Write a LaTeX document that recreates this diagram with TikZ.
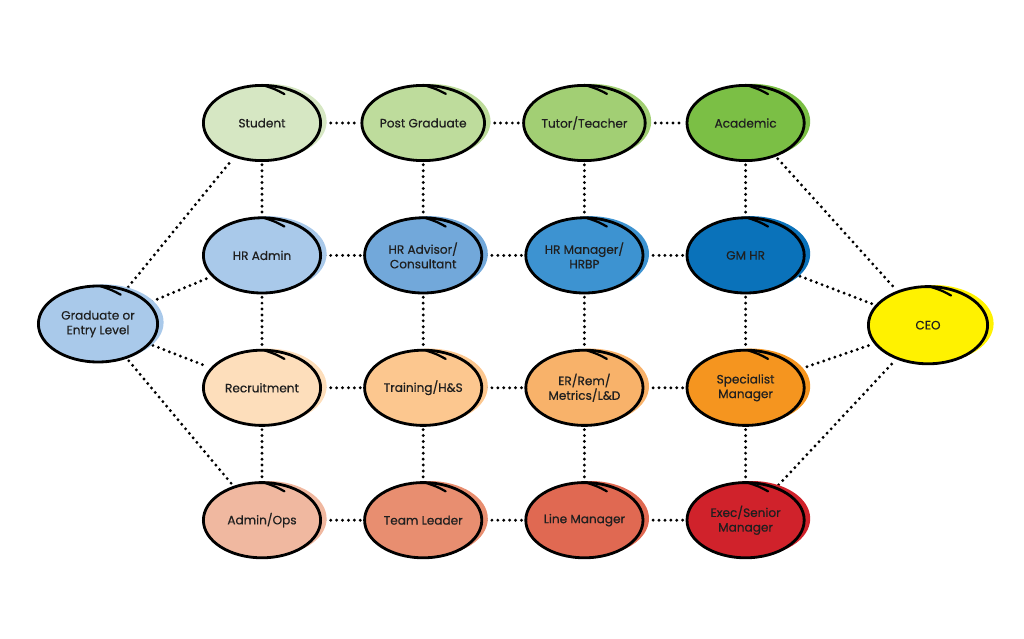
\documentclass[tikz,border=0pt]{standalone}
\usepackage{fontspec}
\setmainfont{Poppins}
\newfontfamily\rolefont{Poppins}[FakeBold=0.5]
\usetikzlibrary{shapes.geometric,positioning,calc,backgrounds}

\definecolor{cStudent}{HTML}{D6E7C3}
\definecolor{cPostGrad}{HTML}{BEDC9C}
\definecolor{cTutor}{HTML}{A2CF74}
\definecolor{cAcademic}{HTML}{7BBF45}
\definecolor{cHRAdmin}{HTML}{A9C9EA}
\definecolor{cHRAdvisor}{HTML}{72A8DA}
\definecolor{cHRManager}{HTML}{3D93D1}
\definecolor{cGMHR}{HTML}{0A72BA}
\definecolor{cRecruit}{HTML}{FDDEBB}
\definecolor{cTraining}{HTML}{FCC78F}
\definecolor{cERRem}{HTML}{F8B26A}
\definecolor{cSpecialist}{HTML}{F5951F}
\definecolor{cAdminOps}{HTML}{F0B8A0}
\definecolor{cTeamLeader}{HTML}{E88E70}
\definecolor{cLineManager}{HTML}{E06952}
\definecolor{cExec}{HTML}{D0222B}
\definecolor{cGraduate}{HTML}{A9C9EA}
\definecolor{cCEO}{HTML}{FFF200}

\begin{document}
\begin{tikzpicture}[
    node distance=3.31cm and 4.03cm, on grid,
    role/.style={ellipse, draw=black, line width=2.0pt, fill=#1, minimum width=2.93cm, minimum height=1.88cm, inner sep=0pt, align=center, text=black!88, font=\rolefont\fontsize{8.6}{10.4}\selectfont, preaction={fill=#1, transform canvas={shift={(0.15,0.04)}}}},
    link/.style={line width=2.3pt, line cap=round, dash pattern=on 0pt off 4.2pt, shorten <=2pt, shorten >=2pt},
    hook/.style={line width=1.6pt, line cap=round}
]
\useasboundingbox (0,0) rectangle (25.6,15.95);

% Left and right ends
\node[role=cGraduate, minimum width=2.98cm, minimum height=1.9cm] (graduate) at (2.45,7.85) {Graduate or\\Entry Level};
\node[role=cCEO, minimum width=2.98cm, minimum height=1.93cm] (ceo) at (23.2,7.82) {CEO};

% Row 1: academic path
\node[role=cStudent] (student) at (6.55,12.875) {Student};
\node[role=cPostGrad, right=of student] (postgrad) {Post Graduate};
\node[role=cTutor, right=of postgrad] (tutor) {Tutor/Teacher};
\node[role=cAcademic, right=of tutor] (academic) {Academic};

% Row 2: HR generalist path
\node[role=cHRAdmin, below=of student] (hradmin) {HR Admin};
\node[role=cHRAdvisor, right=of hradmin] (hradvisor) {HR Advisor/\\Consultant};
\node[role=cHRManager, right=of hradvisor] (hrmanager) {HR Manager/\\HRBP};
\node[role=cGMHR, right=of hrmanager] (gmhr) {GM HR};

% Row 3: specialist path
\node[role=cRecruit, below=of hradmin] (recruit) {Recruitment};
\node[role=cTraining, right=of recruit] (training) {Training/H\&S};
\node[role=cERRem, right=of training] (errem) {ER/Rem/\\Metrics/L\&D};
\node[role=cSpecialist, right=of errem] (specialist) {Specialist\\Manager};

% Row 4: operations path
\node[role=cAdminOps, below=of recruit] (adminops) {Admin/Ops};
\node[role=cTeamLeader, right=of adminops] (teamleader) {Team Leader};
\node[role=cLineManager, right=of teamleader] (linemanager) {Line Manager};
\node[role=cExec, right=of linemanager] (exec) {Exec/Senior\\Manager};

% Pen overlap at the top of each loop
\foreach \n in {graduate,ceo,student,postgrad,tutor,academic,hradmin,hradvisor,hrmanager,gmhr,recruit,training,errem,specialist,adminops,teamleader,linemanager,exec}
  \draw[hook] ($(\n.86)+(0,-0.04)$) .. controls ($(\n.70)+(0.0,-0.11)$) .. ($(\n.54)+(-0.08,-0.16)$);

% Dotted connectors
\begin{scope}[on background layer]
\foreach \a/\b in {student/postgrad,postgrad/tutor,tutor/academic,
                   hradmin/hradvisor,hradvisor/hrmanager,hrmanager/gmhr,
                   recruit/training,training/errem,errem/specialist,
                   adminops/teamleader,teamleader/linemanager,linemanager/exec,
                   student/hradmin,hradmin/recruit,recruit/adminops,
                   postgrad/hradvisor,hradvisor/training,training/teamleader,
                   tutor/hrmanager,hrmanager/errem,errem/linemanager,
                   academic/gmhr,gmhr/specialist,specialist/exec}
  \draw[link] (\a) -- (\b);
\foreach \b in {student,hradmin,recruit,adminops}
  \draw[link] (graduate) -- (\b);
\foreach \a in {academic,gmhr,specialist,exec}
  \draw[link] (\a) -- (ceo);
\end{scope}

\end{tikzpicture}
\end{document}
